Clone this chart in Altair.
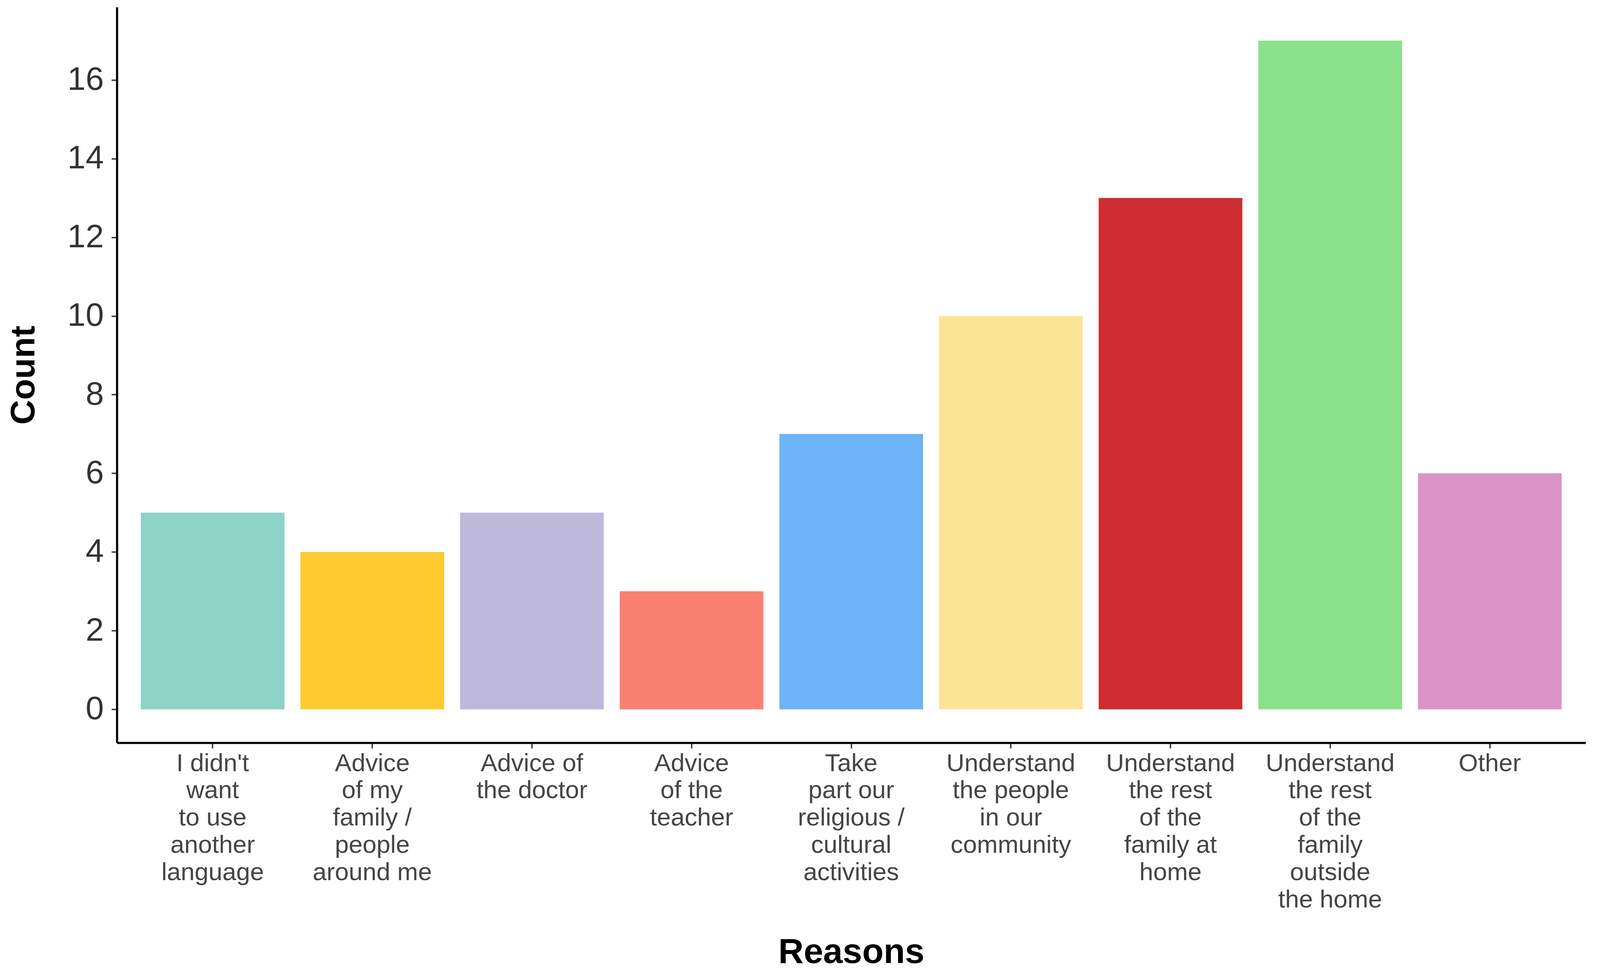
import altair as alt
import pandas as pd

reasons = [
    "I didn't|want|to use|another|language",
    "Advice|of my|family /|people|around me",
    "Advice of|the doctor",
    "Advice|of the|teacher",
    "Take|part our|religious /|cultural|activities",
    "Understand|the people|in our|community",
    "Understand|the rest|of the|family at|home",
    "Understand|the rest|of the|family|outside|the home",
    "Other",
]
counts = [5, 4, 5, 3, 7, 10, 13, 17, 6]
colors = ["#8DD3C7", "#FCCB30", "#BEB9DB", "#FA8072", "#6CB4F7",
          "#FCE497", "#CC2E31", "#8BE28A", "#DB93C8"]
y_ticks = [0, 2, 4, 6, 8, 10, 12, 14, 16]

df = pd.DataFrame({"reason": reasons, "count": counts})

W, H = 3770, 1888

chart = alt.Chart(df).mark_bar().encode(
    x=alt.X("reason:N", sort=reasons,
            scale=alt.Scale(paddingInner=0.1, paddingOuter=0.15),
            axis=alt.Axis(
                title="Reasons", labelAngle=0,
                labelExpr="split(datum.label, '|')",
                labelLimit=2000,
                labelFont="Liberation Sans", labelFontSize=64,
                labelColor="#454545", labelLineHeight=70,
                labelPadding=7, labelBaseline="top",
                tickSize=14, tickWidth=3.5, tickColor="#333333",
                domainColor="#000000", domainWidth=5.5,
                titleFont="Liberation Sans", titleFontSize=90,
                titleFontWeight="bold", titleColor="#000000",
                titleBaseline="middle", titleY=538, titleX=W / 2,
            )),
    y=alt.Y("count:Q",
            scale=alt.Scale(domain=[-0.85, 17.85], nice=False, zero=False),
            axis=alt.Axis(
                title="Count", values=y_ticks, grid=False,
                labelFont="Liberation Sans", labelFontSize=84,
                labelColor="#333333", labelPadding=20,
                tickSize=14, tickWidth=3.5, tickColor="#333333",
                domainColor="#000000", domainWidth=5.5,
                titleFont="Liberation Sans", titleFontSize=88,
                titleFontWeight="bold", titleColor="#000000",
                titleBaseline="middle", titleX=-238, titleY=H / 2,
                titleAngle=270,
            )),
    y2=alt.datum(0),
    color=alt.Color("reason:N", sort=reasons,
                    scale=alt.Scale(domain=reasons, range=colors),
                    legend=None),
).properties(
    width=W, height=H,
    autosize=alt.AutoSizeParams(type="none"),
    padding={"left": 292, "top": 7, "right": 29, "bottom": 595},
).configure_view(stroke=None).configure_axis(grid=False)

chart.save("out.html", embed_options={"renderer": "svg", "actions": False})
